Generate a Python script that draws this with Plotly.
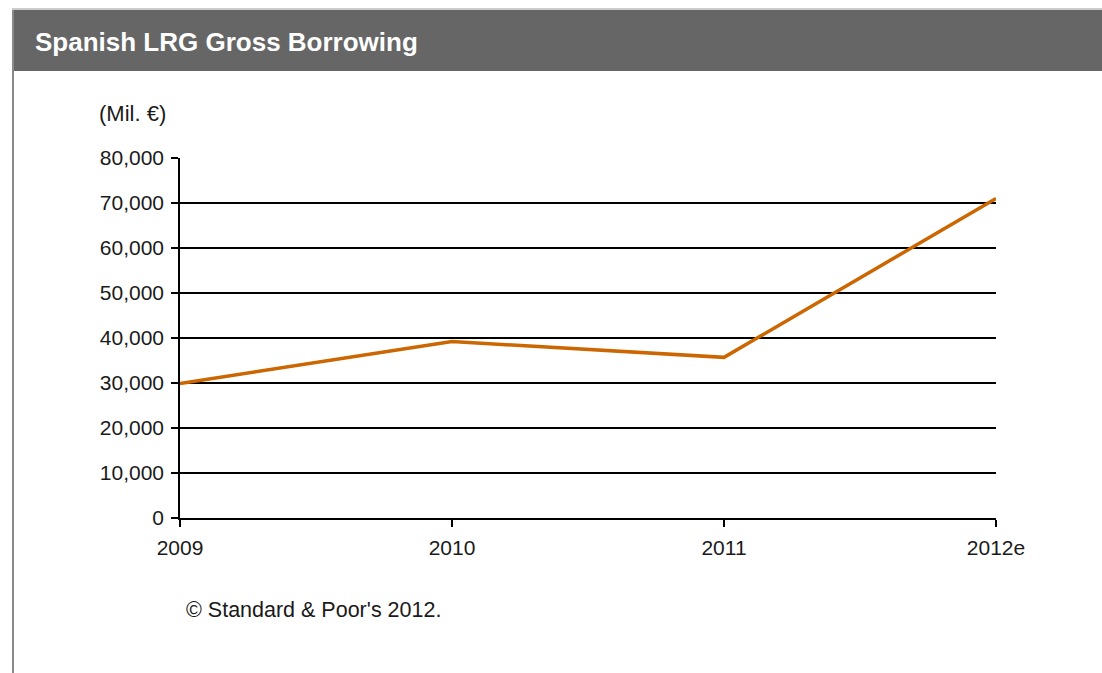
import plotly.graph_objects as go

# Data
years = ["2009", "2010", "2011", "2012e"]
borrowing = [29900, 39200, 35700, 71000]  # million EUR
y_ticks = [0, 10000, 20000, 30000, 40000, 50000, 60000, 70000, 80000]

W, H = 1102, 673
L, R, T, B = 180, 106, 158, 155
PW, PH = W - L - R, H - T - B


def px(x):
    return (x - L) / PW


def py(y):
    return (H - B - y) / PH


FONT = "Liberation Sans, Arial, sans-serif"
TXT = "#1a1a1a"

xpos = list(range(len(years)))

fig = go.Figure()
fig.add_trace(go.Scatter(
    x=xpos, y=borrowing, mode="lines",
    line=dict(color="#CC6600", width=3.5),
    cliponaxis=False, showlegend=False, hoverinfo="x+y",
))

fig.update_layout(
    width=W, height=H,
    margin=dict(l=L, r=R, t=T, b=B, pad=0),
    paper_bgcolor="white", plot_bgcolor="white",
    font=dict(family=FONT, size=21, color=TXT),
    xaxis=dict(
        range=[0, 3], tickvals=xpos, ticktext=years,
        showgrid=False, zeroline=False,
        showline=True, linecolor="black", linewidth=1.5,
        ticks="outside", ticklen=7, tickcolor="black", tickwidth=1.5,
        ticklabelstandoff=3,
        tickfont=dict(size=21, color=TXT),
    ),
    yaxis=dict(
        range=[0, 80000], tickvals=y_ticks,
        tickformat=",d",
        showgrid=True, gridcolor="black", gridwidth=1.5,
        zeroline=False,
        showline=True, linecolor="black", linewidth=1.5,
        ticks="outside", ticklen=7, tickcolor="black", tickwidth=1.5,
        ticklabelstandoff=3,
        tickfont=dict(size=21, color=TXT),
    ),
    shapes=[
        # header bar
        dict(type="rect", xref="paper", yref="paper",
             x0=px(12), x1=px(W + 5), y0=py(71), y1=py(10),
             fillcolor="#666666", line=dict(width=0), layer="above"),
        # top frame line
        dict(type="line", xref="paper", yref="paper",
             x0=px(12), x1=px(W + 5), y0=py(9), y1=py(9),
             line=dict(color="#bbbbbb", width=1.5)),
        # left frame line
        dict(type="line", xref="paper", yref="paper",
             x0=px(13), x1=px(13), y0=py(10), y1=py(H + 5),
             line=dict(color="#8a8a8a", width=2)),
    ],
    annotations=[
        dict(text="<b>Spanish LRG Gross Borrowing</b>", xref="paper", yref="paper",
             x=px(33), y=py(42), xanchor="left", yanchor="middle", showarrow=False,
             font=dict(size=26, color="white", family=FONT)),
        dict(text="(Mil. €)", xref="paper", yref="paper",
             x=px(97), y=py(113), xanchor="left", yanchor="middle", showarrow=False,
             font=dict(size=22, color=TXT, family=FONT)),
        dict(text="© Standard & Poor's 2012.", xref="paper", yref="paper",
             x=px(184), y=py(610), xanchor="left", yanchor="middle", showarrow=False,
             font=dict(size=21.5, color=TXT, family=FONT)),
    ],
)

fig.write_html("out.html")
